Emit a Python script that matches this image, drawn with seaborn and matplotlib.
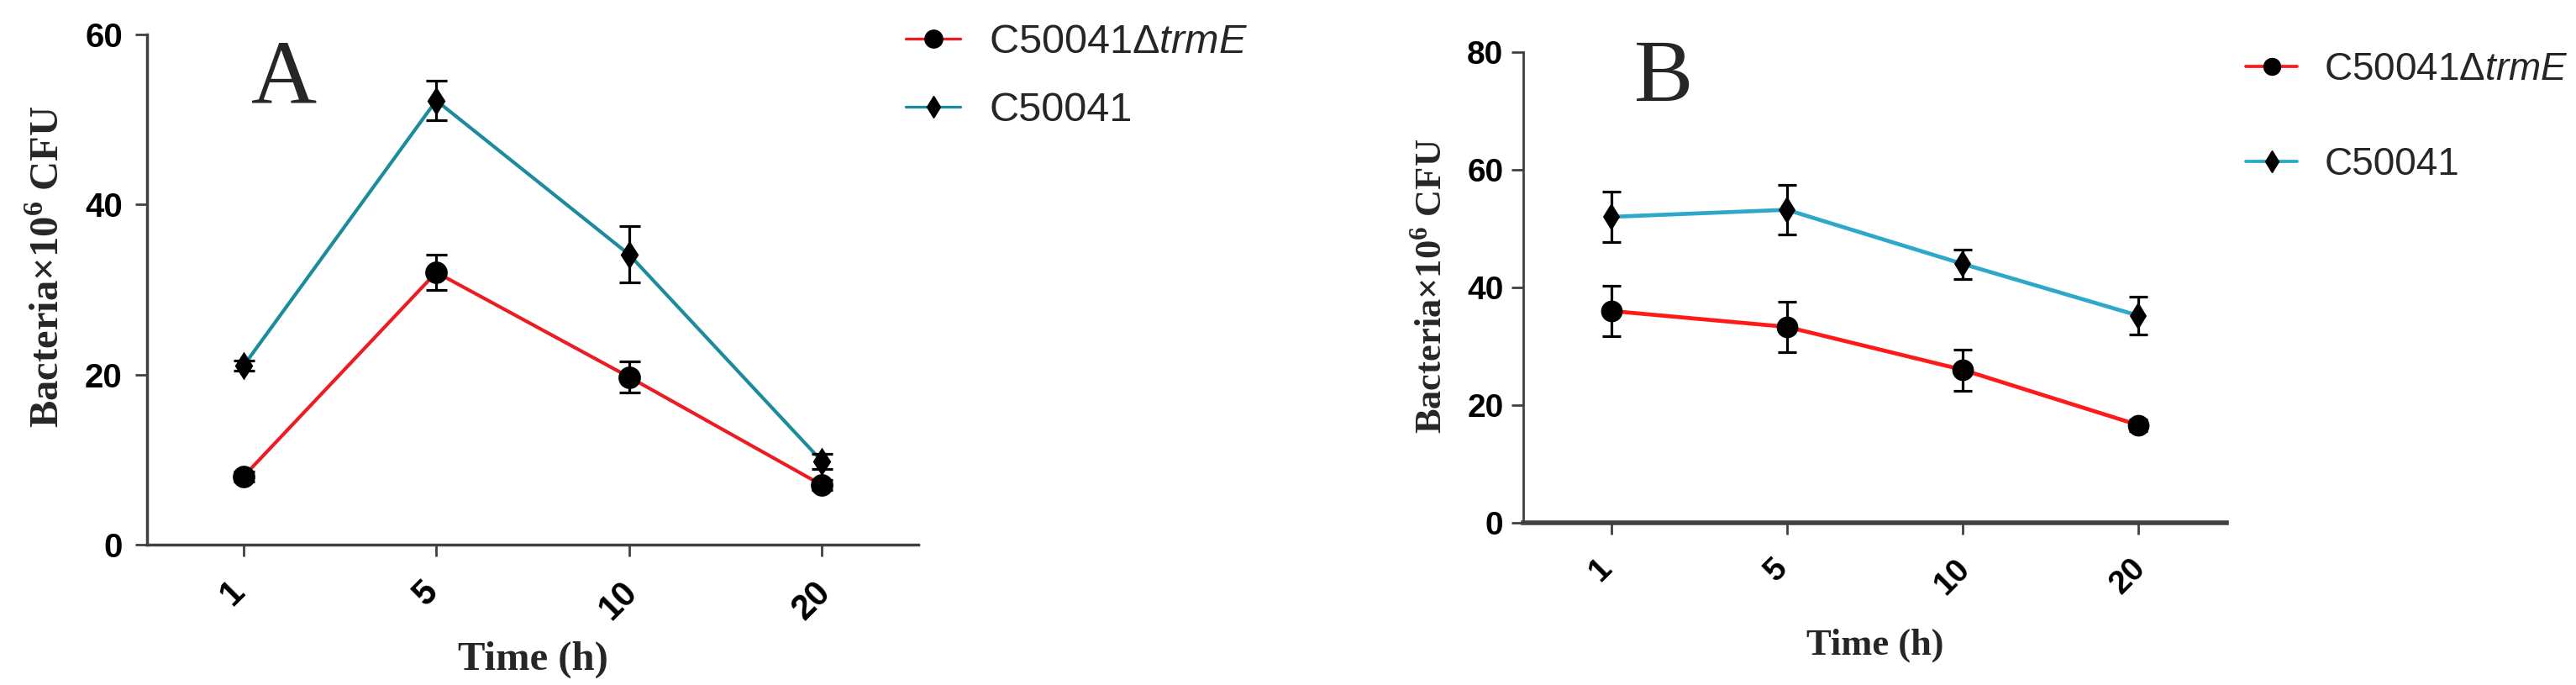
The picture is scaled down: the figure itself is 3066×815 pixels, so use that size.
import numpy as np
import pandas as pd
import matplotlib
matplotlib.use("Agg")
import matplotlib.pyplot as plt
import matplotlib.transforms as mtransforms
from matplotlib.lines import Line2D
import seaborn as sns

# data (mean +/- error, x10^6 CFU)
times = ["1", "5", "10", "20"]
strains = ["C50041ΔtrmE", "C50041"]

a_mut_mean = [8.0, 32.0, 19.7, 7.0]
a_mut_err = [0.6, 2.1, 1.8, 0.6]
a_wt_mean = [21.0, 52.2, 34.1, 9.8]
a_wt_err = [0.6, 2.3, 3.3, 0.9]

b_mut_mean = [36.0, 33.3, 26.0, 16.6]
b_mut_err = [4.3, 4.3, 3.5, 1.0]
b_wt_mean = [52.0, 53.2, 44.0, 35.2]
b_wt_err = [4.3, 4.2, 2.5, 3.2]

W, H = 3066, 815

sns.set_style("ticks")
plt.rcParams["font.family"] = ["Liberation Sans", "DejaVu Sans"]
plt.rcParams["mathtext.fontset"] = "custom"
plt.rcParams["mathtext.rm"] = "Liberation Serif:bold"
plt.rcParams["mathtext.bf"] = "Liberation Serif:bold"
plt.rcParams["mathtext.it"] = "Liberation Sans:italic"

SPINE = "#404040"


def draw_panel(ax, mut_mean, mut_err, wt_mean, wt_err, colors, yticks, opts):
    df = pd.DataFrame({
        "time": times * 2,
        "cfu": list(mut_mean) + list(wt_mean),
        "strain": [strains[0]] * len(times) + [strains[1]] * len(times),
    })
    sns.pointplot(data=df, x="time", y="cfu", hue="strain", order=times,
                  hue_order=strains, palette=colors, markers=["o", "d"],
                  errorbar=None, legend=False, ax=ax,
                  linewidth=opts["lw"], markersize=opts["ms"])
    for ln, ms in zip(ax.lines, [opts["ms"], opts["ms"] * 0.85]):
        ln.set_markerfacecolor("black")
        ln.set_markeredgecolor("black")
        ln.set_markersize(ms)
        ln.set_clip_on(False)
    pos = np.arange(len(times))
    for m, e in [(mut_mean, mut_err), (wt_mean, wt_err)]:
        ax.errorbar(pos, m, yerr=e, fmt="none", ecolor="black",
                    elinewidth=2.3, capsize=opts["cap"], capthick=2.3,
                    zorder=5, clip_on=False)

    ax.set_xlim(-0.5, len(times) - 0.5)
    ax.set_ylim(yticks[0], yticks[-1])
    ax.set_yticks(yticks)
    ax.set_xticks(pos)
    ax.set_xticklabels(times)
    sns.despine(ax=ax)
    ax.spines["left"].set_color(SPINE)
    ax.spines["bottom"].set_color(SPINE)
    ax.spines["left"].set_linewidth(opts["spl"])
    ax.spines["bottom"].set_linewidth(opts["spb"])
    ax.tick_params(axis="both", colors=SPINE, width=2, length=10)
    ax.tick_params(axis="y", pad=opts["ypad"], labelcolor="black")
    ax.tick_params(axis="x", pad=opts["xpad"], labelcolor="black")
    for t in ax.get_yticklabels():
        t.set_fontsize(opts["tfs"])
        t.set_fontweight("bold")
    shift = mtransforms.ScaledTranslation(-9 / 72, 0, ax.figure.dpi_scale_trans)
    for t in ax.get_xticklabels():
        t.set_fontsize(opts["xtfs"])
        t.set_fontweight("bold")
        t.set_rotation(45)
        t.set_ha("center")
        t.set_va("top")
        t.set_transform(t.get_transform() + shift)

    ax.set_xlabel("Time (h)", family="Liberation Serif", fontweight="bold",
                  fontsize=opts["lfs"])
    ax.set_ylabel("Bacteria×10$^{6}$ CFU", family="Liberation Serif",
                  fontweight="bold", fontsize=opts["lfs"])
    ax.xaxis.set_label_coords(0.5, opts["xl"])
    ax.yaxis.set_label_coords(opts["yl"][0], opts["yl"][1])

    handles = [Line2D([], [], color=colors[0], lw=opts["lw"] * 0.8, marker="o",
                      ms=opts["ms"] * 0.9, mfc="black", mec="black"),
               Line2D([], [], color=colors[1], lw=opts["lw"] * 0.8, marker="d",
                      ms=opts["ms"] * 0.8, mfc="black", mec="black")]
    labels = ["C50041Δ$\\mathit{trmE}$", "C50041"]
    ax.legend(handles, labels, loc="upper left", bbox_to_anchor=opts["leg"],
              bbox_transform=ax.figure.transFigure, frameon=False,
              fontsize=opts["legfs"], handlelength=1.34, handletextpad=0.7,
              labelspacing=opts["lsp"], borderpad=0, borderaxespad=0)


fig = plt.figure(figsize=(W / 100, H / 100), dpi=100)
axA = fig.add_axes([175 / W, 167 / H, 918 / W, 607.4 / H])
axB = fig.add_axes([1813 / W, 193 / H, 837 / W, 560 / H])

draw_panel(axA, a_mut_mean, a_mut_err, a_wt_mean, a_wt_err,
           ["#ec1c24", "#1c8c9c"], [0, 20, 40, 60],
           dict(lw=3.0, ms=17, cap=9, spl=2.5, spb=2.5, ypad=11, xpad=16,
                tfs=29, xtfs=30, lfs=35, xl=-0.188, yl=(-0.103, 0.545),
                leg=(1078 / W, 1 - 28 / H), legfs=35, lsp=0.74))
draw_panel(axB, b_mut_mean, b_mut_err, b_wt_mean, b_wt_err,
           ["#ff1a1a", "#2ea8c8"], [0, 20, 40, 60, 80],
           dict(lw=3.4, ms=16, cap=8, spl=2.0, spb=4.0, ypad=7, xpad=16,
                tfs=28, xtfs=28, lfs=32, xl=-0.225, yl=(-0.105, 0.502),
                leg=(2673 / W, 1 - 61 / H), legfs=33, lsp=1.5))

fig.text(338 / W, 1 - 122 / H, "A", ha="center", va="baseline",
         family="Liberation Serif", fontsize=78)
fig.text(1980 / W, 1 - 120 / H, "B", ha="center", va="baseline",
         family="Liberation Serif", fontsize=76)

fig.savefig("out.png", dpi=100, facecolor="white")
